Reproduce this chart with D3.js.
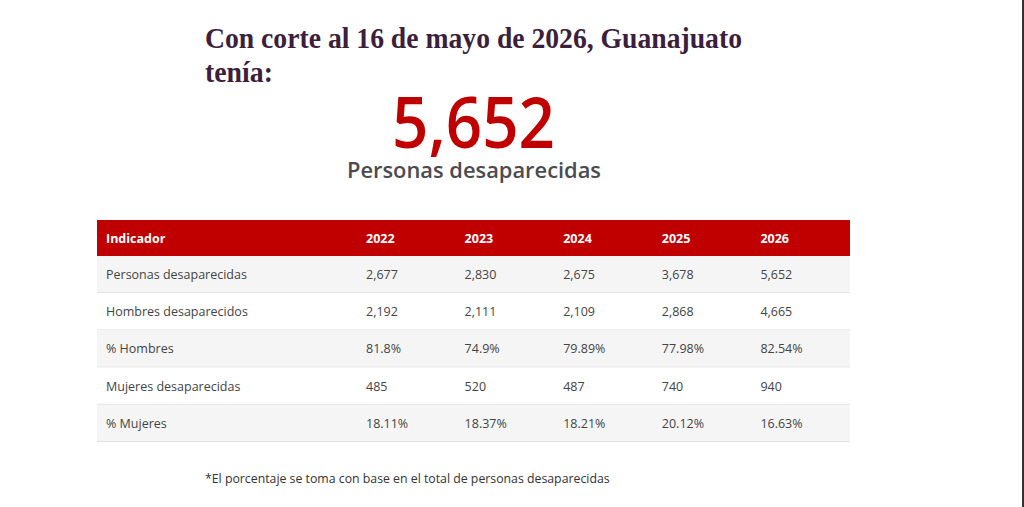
<!DOCTYPE html>
<html>
<head>
<meta charset="utf-8">
<script src="https://cdn.jsdelivr.net/npm/d3@7"></script>
<style>
  body { margin: 0; background: #fff; }
  svg { display: block; }
</style>
</head>
<body>
<div id="chart"></div>
<script>
// Data
const years = ["2022", "2023", "2024", "2025", "2026"];
const indicators = ["Personas desaparecidas", "Hombres desaparecidos", "% Hombres", "Mujeres desaparecidas", "% Mujeres"];
const personas = ["2,677", "2,830", "2,675", "3,678", "5,652"];
const hombres = ["2,192", "2,111", "2,109", "2,868", "4,665"];
const pctHombres = ["81.8%", "74.9%", "79.89%", "77.98%", "82.54%"];
const mujeres = ["485", "520", "487", "740", "940"];
const pctMujeres = ["18.11%", "18.37%", "18.21%", "20.12%", "16.63%"];
const total = "5,652";

const rows = [personas, hombres, pctHombres, mujeres, pctMujeres]
    .map((vals, i) => ({ name: indicators[i], vals: vals }));

const W = 1024, H = 507;
const red = "#c00000";
const sans = "'Open Sans', 'Noto Sans', sans-serif";

const svg = d3.select("#chart").append("svg")
    .attr("width", W)
    .attr("height", H);

svg.append("rect").attr("width", W).attr("height", H).attr("fill", "#fff");
// thin dark edge on the right of the screenshot
svg.append("rect").attr("x", 1022).attr("y", 0).attr("width", 2).attr("height", H).attr("fill", "#333");

// Title
const title = svg.append("g")
    .style("font-family", "'Liberation Serif', 'DejaVu Serif', serif")
    .style("font-weight", "bold")
    .style("font-size", "29px")
    .attr("fill", "#3b1f3d");
title.append("text").attr("x", 205).attr("y", 48)
    .attr("textLength", 537).attr("lengthAdjust", "spacingAndGlyphs")
    .text("Con corte al 16 de mayo de 2026, Guanajuato");
title.append("text").attr("x", 205).attr("y", 82)
    .attr("textLength", 68).attr("lengthAdjust", "spacingAndGlyphs")
    .text("tenía:");

// Big number
svg.append("text")
    .attr("x", 392).attr("y", 148)
    .attr("textLength", 163).attr("lengthAdjust", "spacingAndGlyphs")
    .style("font-family", sans)
    .style("font-size", "70px")
    .style("font-weight", 600)
    .attr("fill", red)
    .text(total);

svg.append("text")
    .attr("x", 347).attr("y", 178)
    .attr("textLength", 254).attr("lengthAdjust", "spacingAndGlyphs")
    .style("font-family", sans)
    .style("font-size", "22px")
    .style("font-weight", 600)
    .attr("fill", "#4b4b50")
    .text("Personas desaparecidas");

// Table
const left = 97, right = 850, firstColW = 260;
const x = d3.scaleBand().domain(years).range([left + firstColW, right]);
const headerTop = 220, headerH = 36;
const y = d3.scaleBand().domain(indicators).range([headerTop + headerH, 442]);

const table = svg.append("g").style("font-family", sans).style("font-size", "12.5px");

table.append("rect")
    .attr("x", left).attr("y", headerTop)
    .attr("width", right - left).attr("height", headerH)
    .attr("fill", red);

const hy = headerTop + headerH / 2 + 4.5;
table.append("text").attr("x", left + 9).attr("y", hy)
    .attr("fill", "#fff").style("font-weight", "bold").text("Indicador");
table.selectAll("text.yr").data(years).join("text")
    .attr("class", "yr")
    .attr("x", d => x(d) + 9).attr("y", hy)
    .attr("fill", "#fff").style("font-weight", "bold")
    .text(d => d);

const rowG = table.selectAll("g.row").data(rows).join("g")
    .attr("class", "row")
    .attr("transform", d => `translate(0,${y(d.name)})`);

rowG.append("rect")
    .attr("x", left).attr("width", right - left)
    .attr("height", y.bandwidth())
    .attr("fill", (d, i) => i % 2 === 0 ? "#f5f5f5" : "#fff");

rowG.append("line")
    .attr("x1", left).attr("x2", right)
    .attr("y1", y.bandwidth() - 0.5).attr("y2", y.bandwidth() - 0.5)
    .attr("stroke", "#e2e2e2");

rowG.append("text")
    .attr("x", left + 9).attr("y", y.bandwidth() / 2 + 4.5)
    .attr("fill", "#444").text(d => d.name);

rowG.selectAll("text.v").data(d => d.vals).join("text")
    .attr("class", "v")
    .attr("x", (d, i) => x(years[i]) + 9)
    .attr("y", y.bandwidth() / 2 + 4.5)
    .attr("fill", "#444")
    .text(d => d);

// Footnote
svg.append("text")
    .attr("x", 205).attr("y", 483)
    .style("font-family", sans)
    .style("font-size", "12.3px")
    .attr("fill", "#333")
    .text("*El porcentaje se toma con base en el total de personas desaparecidas");
</script>
</body>
</html>
